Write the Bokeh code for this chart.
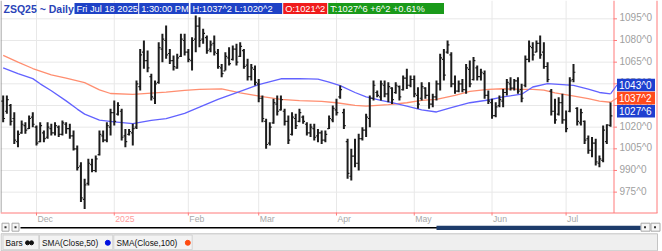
import pandas as pd
from bokeh.plotting import figure
from bokeh.models import Range1d, Label, BoxAnnotation
from bokeh.embed import file_html
from bokeh.resources import INLINE
from bokeh.core.properties import value

# ---------------- data ----------------
HOLIDAYS = ["2024-11-28", "2024-12-25", "2025-01-01", "2025-01-09", "2025-01-20",
            "2025-02-17", "2025-04-18", "2025-05-26", "2025-06-19", "2025-07-04"]
dates = [d for d in pd.bdate_range("2024-11-18", "2025-07-18")
         if d.strftime("%Y-%m-%d") not in HOLIDAYS]

highs = [1041.9, 1041.9, 1036.1, 1030.4, 1017.7, 1024.6, 1023.4, 1028.1, 1030.4, 1021.1,
         1023.4, 1017.7, 1023.4, 1022.3, 1023.4, 1021.1, 1024.6, 1023.4, 1022.3, 1017.7,
         1007.3, 995.7, 984.2, 998.1, 998.1, 1000.4, 1017.7, 1017.7, 1023.4, 1032.7,
         1038.4, 1037.3, 1032.7, 1018.8, 1018.8, 1022.3, 1052.3, 1074.2, 1080.0, 1073.1,
         1056.9, 1052.3, 1078.8, 1084.6, 1090.4, 1074.2, 1069.6, 1070.8, 1084.6, 1084.6,
         1074.2, 1082.3, 1097.3, 1096.1, 1088.1, 1083.5, 1080.0, 1083.5, 1074.2, 1063.8,
         1071.9, 1075.4, 1076.5, 1077.7, 1078.8, 1074.2, 1067.3, 1063.8, 1062.7, 1053.4,
         1041.9, 1025.8, 1023.4, 1039.6, 1041.9, 1041.9, 1032.7, 1028.1, 1030.4, 1029.2,
         1032.7, 1028.1, 1023.4, 1022.3, 1022.3, 1018.8, 1017.7, 1017.7, 1028.1, 1035.0,
         1039.6, 1048.8, 1032.7, 1011.9, 1005.0, 1011.9, 1015.4, 1020.0, 1029.2, 1041.9,
         1052.3, 1045.4, 1052.3, 1052.3, 1051.1, 1047.7, 1051.1, 1048.8, 1055.8, 1060.4,
         1055.8, 1055.8, 1047.7, 1051.1, 1047.7, 1051.1, 1043.1, 1052.3, 1070.8, 1074.2,
         1080.0, 1071.9, 1055.8, 1052.3, 1053.4, 1063.8, 1066.1, 1068.5, 1062.7, 1060.4,
         1059.2, 1045.4, 1039.6, 1037.3, 1041.9, 1046.5, 1053.4, 1054.6, 1053.4, 1054.6,
         1050.0, 1069.6, 1080.0, 1078.8, 1080.0, 1083.5, 1078.8, 1065.0, 1046.5, 1039.6,
         1040.7, 1043.1, 1031.5, 1054.6, 1063.8, 1033.8, 1032.7, 1024.6, 1014.2, 1013.1,
         1011.9, 1000.4, 1021.1, 1022.0, 1037.25]

lows = [1023.4, 1029.2, 1021.1, 1008.4, 1006.1, 1015.4, 1015.4, 1018.8, 1020.0, 1007.3,
        1009.6, 1009.6, 1011.9, 1014.2, 1014.2, 1013.1, 1014.2, 1015.4, 1011.9, 1003.8,
        990.0, 968.1, 963.4, 979.6, 988.8, 988.8, 1000.4, 1009.6, 1009.6, 1014.2,
        1021.1, 1028.1, 1010.8, 1006.1, 1014.2, 1007.3, 1018.8, 1045.4, 1060.4, 1058.1,
        1038.4, 1036.1, 1050.0, 1065.0, 1067.3, 1063.8, 1059.2, 1060.4, 1068.5, 1069.6,
        1065.0, 1059.2, 1071.9, 1075.4, 1077.7, 1070.8, 1071.9, 1069.6, 1060.4, 1054.6,
        1059.2, 1062.7, 1066.1, 1062.7, 1068.5, 1060.4, 1052.3, 1052.3, 1048.8, 1037.3,
        1023.4, 1005.0, 1007.3, 1022.3, 1028.1, 1031.5, 1021.1, 1008.4, 1014.2, 1018.8,
        1023.4, 1022.3, 1014.2, 1013.1, 1010.8, 1009.6, 1008.4, 1009.6, 1018.8, 1023.4,
        1028.1, 1039.6, 1018.8, 984.2, 983.0, 992.3, 990.0, 1010.8, 1013.1, 1020.0,
        1038.4, 1040.7, 1038.4, 1040.7, 1037.3, 1036.1, 1043.1, 1038.4, 1045.4, 1046.5,
        1047.7, 1040.7, 1032.7, 1038.4, 1039.6, 1032.7, 1033.8, 1038.4, 1045.4, 1052.3,
        1070.8, 1047.7, 1043.1, 1044.2, 1044.2, 1043.1, 1047.7, 1052.3, 1052.3, 1052.3,
        1039.6, 1036.1, 1025.8, 1026.9, 1033.8, 1033.8, 1041.9, 1045.4, 1045.4, 1043.1,
        1037.3, 1047.7, 1065.0, 1066.1, 1071.9, 1067.3, 1060.4, 1051.1, 1028.1, 1022.3,
        1028.1, 1022.3, 1016.5, 1030.4, 1051.1, 1021.1, 1021.1, 1008.4, 1001.5, 999.2,
        993.4, 992.3, 995.7, 1008.4, 1020.25]

opens = [1038, 1031, 1035, 1026, 1010, 1016, 1021, 1019, 1027, 1020,
         1010, 1016, 1013, 1019, 1016, 1020, 1015, 1022, 1019, 1014,
         1005, 993, 970, 981, 994, 990, 1001, 1014, 1011, 1020,
         1030, 1029, 1031, 1014, 1015, 1016, 1020, 1048, 1072, 1066,
         1055, 1040, 1051, 1074, 1080, 1071, 1066, 1061, 1069, 1080,
         1072, 1066, 1081, 1090, 1081, 1082, 1074, 1078, 1071, 1061,
         1059, 1068, 1067, 1074, 1069, 1073, 1063, 1055, 1060, 1050,
         1040, 1024, 1009, 1023, 1036, 1032, 1031, 1024, 1015, 1026,
         1024, 1027, 1022, 1016, 1019, 1014, 1016, 1011, 1019, 1025,
         1032, 1041, 1030, 1010, 986, 1000, 995, 1012, 1018, 1026,
         1040, 1044, 1041, 1049, 1043, 1047, 1044, 1048, 1046, 1054,
         1049, 1053, 1042, 1040, 1047, 1042, 1036, 1041, 1050, 1067,
         1072, 1070, 1050, 1045, 1050, 1046, 1060, 1053, 1061, 1055,
         1057, 1042, 1037, 1028, 1035, 1038, 1044, 1050, 1047, 1052,
         1046, 1049, 1067, 1075, 1072, 1078, 1072, 1062, 1045, 1031,
         1029, 1037, 1025, 1031, 1053, 1033, 1023, 1024, 1012, 1004,
         1009, 995, 997, 1010, 1021.25]

closes = [1026, 1039, 1024, 1011, 1015, 1022, 1018, 1026, 1022, 1009,
          1021, 1012, 1020, 1016, 1021, 1015, 1023, 1019, 1014, 1005,
          992, 971, 980, 995, 990, 998, 1015, 1011, 1021, 1030,
          1024, 1035, 1013, 1010, 1017, 1019, 1050, 1070, 1066, 1061,
          1041, 1050, 1075, 1081, 1070, 1066, 1062, 1068, 1081, 1072,
          1067, 1080, 1090, 1080, 1085, 1073, 1077, 1072, 1062, 1057,
          1069, 1064, 1074, 1065, 1076, 1062, 1055, 1061, 1051, 1040,
          1026, 1008, 1020, 1037, 1031, 1039, 1024, 1011, 1027, 1021,
          1030, 1024, 1016, 1020, 1013, 1016, 1011, 1015, 1026, 1033,
          1030, 1046, 1021, 988, 1000, 995, 1012, 1018, 1027, 1040,
          1049, 1042, 1050, 1043, 1048, 1039, 1049, 1041, 1054, 1049,
          1053, 1043, 1036, 1048, 1042, 1036, 1041, 1050, 1068, 1056,
          1077, 1050, 1045, 1050, 1046, 1061, 1050, 1066, 1055, 1058,
          1042, 1038, 1028, 1034, 1039, 1044, 1051, 1047, 1052, 1045,
          1040, 1067, 1076, 1070, 1078, 1070, 1062, 1053, 1031, 1025,
          1037, 1025, 1019, 1052, 1058, 1024, 1030, 1011, 1004, 1009,
          996, 998, 1018, 1021.5, 1027.75]

sma50_idx = [0, 4, 8, 10, 13, 17, 20, 22, 26, 30, 35, 40, 44, 49, 53, 58, 64, 69, 75, 80,
             85, 88, 91, 95, 98, 102, 105, 109, 113, 117, 121, 126, 131, 135, 140, 143,
             147, 150, 154, 158, 161, 164]
sma50_val = [1061.0, 1057.0, 1053.6, 1050.0, 1045.2, 1038.2, 1032.5, 1029.0, 1024.8, 1023.7,
             1022.4, 1024.7, 1025.9, 1029.5, 1033.8, 1039.3, 1044.8, 1049.4, 1053.5, 1053.6,
             1053.2, 1051.2, 1048.8, 1044.0, 1041.0, 1038.5, 1037.0, 1034.6, 1032.0, 1030.5,
             1033.5, 1036.9, 1038.8, 1040.9, 1042.8, 1047.8, 1050.1, 1049.6, 1048.9, 1046.4,
             1044.0, 1043.0]

sma100_idx = [0, 4, 8, 13, 17, 22, 26, 29, 35, 40, 44, 49, 53, 59, 64, 70, 75, 80, 86, 90,
              95, 98, 104, 109, 113, 117, 122, 126, 131, 135, 140, 143, 146, 149, 153, 158,
              161, 164]
sma100_val = [1069.7, 1065.0, 1060.6, 1056.2, 1054.0, 1050.8, 1045.8, 1043.3, 1042.7, 1043.6,
              1044.3, 1045.5, 1046.1, 1046.5, 1043.8, 1041.2, 1039.2, 1038.3, 1037.9, 1036.9,
              1035.1, 1034.6, 1035.6, 1036.9, 1038.6, 1039.3, 1042.0, 1044.8, 1046.1, 1046.6,
              1046.1, 1046.1, 1045.6, 1043.8, 1042.0, 1039.7, 1038.0, 1037.25]

y_ticks = [975, 990, 1005, 1020, 1035, 1050, 1065, 1080, 1095]
y_tick_labels = ["975^0", "990^0", "1005^0", "1020^0", "1035^0", "1050^0", "1065^0",
                 "1080^0", "1095^0"]
month_names = ["Dec", "2025", "Feb", "Mar", "Apr", "May", "Jun", "Jul"]
month_colors = ["#a8a8a8", "#ff9c9c", "#a8a8a8", "#a8a8a8", "#a8a8a8", "#a8a8a8", "#a8a8a8",
                "#a8a8a8"]

header_title = "ZSQ25 ~ Daily"
header_texts = ["Fri Jul 18 2025", "1:30:00 PM", "H:1037^2  L:1020^2", "O:1021^2",
                "T:1027^6  +6^2  +0.61%"]
price_tags = ["1043^0", "1037^2", "1027^6"]
legend_texts = ["Bars", "SMA(Close,50)", "SMA(Close,100)"]

# ---------------- geometry (pixel helpers for the chrome) ----------------
FONT = "Liberation Sans"
W, H = 662, 251
PLOT_W, PLOT_H = 613, 212          # price pane: x 0..613, y 0..212
X0, X1 = -0.72, 164.8              # bar index range across the price pane
Y0, Y1 = 960.9, 1107.7             # price range across the price pane


def px2x(px):
    return X0 + px * (X1 - X0) / PLOT_W


def px2y(py):
    return Y1 - py * (Y1 - Y0) / PLOT_H


def qx(v):
    return [px2x(a) for a in v]


def qy(v):
    return [px2y(a) for a in v]


n = len(highs)
xs = list(range(n))
month_idx = [i for i in range(1, len(dates)) if dates[i].month != dates[i - 1].month]

p = figure(width=W, height=H, x_range=Range1d(px2x(0), px2x(W)),
           y_range=Range1d(px2y(H), px2y(0)),
           output_backend="svg", toolbar_location=None, x_axis_type=None, y_axis_type=None,
           min_border_left=0, min_border_right=0, min_border_top=0, min_border_bottom=0)
p.outline_line_color = None
p.grid.visible = False
p.background_fill_color = "white"
p.border_fill_color = "white"

RED = "#ff7b7b"
GRID = "#e8e8e8"

# grid of the price pane
p.segment(x0=[px2x(0)] * len(y_ticks), x1=[px2x(PLOT_W)] * len(y_ticks), y0=y_ticks, y1=y_ticks,
          line_color=GRID, line_width=1)
p.segment(x0=month_idx, x1=month_idx, y0=[px2y(0)] * len(month_idx),
          y1=[px2y(PLOT_H)] * len(month_idx), line_color=GRID, line_width=1)

# pane borders
p.segment(x0=[px2x(0.5)], x1=[px2x(0.5)], y0=[px2y(0)], y1=[px2y(PLOT_H)],
          line_color="#8a8a8a", line_width=1)
p.segment(x0=[px2x(PLOT_W + 0.5), px2x(656.5), px2x(0)],
          x1=[px2x(PLOT_W + 0.5), px2x(656.5), px2x(657)],
          y0=[px2y(0), px2y(0), px2y(PLOT_H + 0.5)],
          y1=[px2y(PLOT_H + 0.5), px2y(PLOT_H + 0.5), px2y(PLOT_H + 0.5)],
          line_color=RED, line_width=1)

# price axis ticks and labels
p.segment(x0=[px2x(PLOT_W)] * len(y_ticks), x1=[px2x(PLOT_W + 3.5)] * len(y_ticks),
          y0=y_ticks, y1=y_ticks, line_color=RED, line_width=1)
p.text(x=[px2x(619)] * len(y_ticks), y=y_ticks, text=y_tick_labels, text_font=value(FONT),
       text_font_size="10px", text_color="#a0a0a0", text_baseline="middle", y_offset=-1)

# time axis ticks and labels
p.segment(x0=month_idx, x1=month_idx, y0=[px2y(PLOT_H)] * len(month_idx),
          y1=[px2y(PLOT_H + 3)] * len(month_idx), line_color=RED, line_width=1)
p.text(x=month_idx, y=[px2y(218.5)] * len(month_idx), text=month_names,
       text_font=value(FONT), text_font_size="8.7px", text_color=month_colors,
       text_baseline="middle", x_offset=1)

# moving averages
BLUE_MA = "#6262ff"
ORANGE_MA = "#ff8e70"
p.line(sma100_idx, sma100_val, line_color=ORANGE_MA, line_width=1.3)
p.line(sma50_idx, sma50_val, line_color=BLUE_MA, line_width=1.3)

# OHLC bars
BAR = "#1c1c1c"
p.segment(x0=xs, y0=lows, x1=xs, y1=highs, line_color=BAR, line_width=2)
p.segment(x0=[x - 0.5 for x in xs], y0=opens, x1=xs, y1=opens, line_color=BAR, line_width=1.2)
p.segment(x0=xs, y0=closes, x1=[x + 0.5 for x in xs], y1=closes, line_color=BAR, line_width=1.2)

# connectors from the moving-average ends to their tags
p.segment(x0=[xs[-1], xs[-1]], y0=[sma50_val[-1], sma100_val[-1]],
          x1=[px2x(616.5), px2x(616.5)], y1=[px2y(84.5), px2y(97.6)],
          line_color=[BLUE_MA, ORANGE_MA], line_width=1.2)

# header
p.add_layout(Label(x=px2x(3), y=px2y(8), text=header_title, text_font=FONT,
                   text_font_size="10.5px", text_font_style="bold", text_color="#2a44b8",
                   text_baseline="middle"))
hdr_l = [74, 138.7, 190, 282.7, 327.7]
hdr_r = [137.7, 188.3, 281.7, 326.7, 443.5]
hdr_c = ["#1e42c6", "#1e42c6", "#1e42c6", "#f01c1c", "#1a9a1a"]
for t, l, r, c in zip(header_texts, hdr_l, hdr_r, hdr_c):
    p.add_layout(BoxAnnotation(left=px2x(l), right=px2x(r), top=px2y(2.5), bottom=px2y(13.5),
                               fill_color=c, fill_alpha=1, line_color=None))
    p.add_layout(Label(x=px2x(l + 2), y=px2y(8.2), text=t, text_font=FONT,
                       text_font_size="9.3px", text_color="white", text_baseline="middle"))

# price tags on the axis
tag_c = ["#1e3fd0", "#ff4a1c", "#1e3fd0"]
tag_mid = [84.5, 97.6, 110.7]
for t, c, m in zip(price_tags, tag_c, tag_mid):
    p.add_layout(BoxAnnotation(left=px2x(616.5), right=px2x(654.5), top=px2y(m - 6.3),
                               bottom=px2y(m + 6.3), fill_color=c, fill_alpha=1, line_color=None))
    p.add_layout(Label(x=px2x(618.5), y=px2y(m + 0.3), text=t, text_font=FONT,
                       text_font_size="10px", text_color="white", text_baseline="middle"))

# ---------------- scrollbar ----------------
p.quad(left=qx([1.5, 11.5, 640.5, 650.5]), right=qx([8.5, 18.5, 649.5, 659.5]),
       top=qy([222.7] * 4), bottom=qy([230.7] * 4),
       fill_color="#f6f6f6", line_color="#a8a8a8", line_width=1)
p.quad(left=qx([4, 14, 643.5, 653.5]), right=qx([6, 16, 645.5, 655.5]),
       top=qy([225.8] * 4), bottom=qy([227.8] * 4), fill_color="#333333", line_color=None)
p.quad(left=qx([20]), right=qx([437]), top=qy([226.4]), bottom=qy([228.0]),
       fill_color="#000000", line_color=None)
p.quad(left=qx([436]), right=qx([640]), top=qy([225.2]), bottom=qy([229.4]),
       fill_color="#1d3c6b", line_color=None)

# ---------------- legend strip ----------------
p.quad(left=qx([0.5]), right=qx([657]), top=qy([233.3]), bottom=qy([250.3]),
       fill_color="#efefef", line_color="#c4c4c4", line_width=1)
p.quad(left=qx([2.5, 39, 113.3]), right=qx([38.3, 112.3, 191.7]), top=qy([234.5] * 3),
       bottom=qy([249.2] * 3), fill_color="#f3f3f3", line_color="#d2d2d2", line_width=1)
p.text(x=qx([5, 41.5, 116]), y=qy([242.3] * 3), text=legend_texts, text_font=value(FONT),
       text_font_size="8.3px", text_color="#111111", text_baseline="middle")
p.scatter(x=qx([27, 31]), y=qy([242.3, 242.3]), size=4, color="#111111")
p.scatter(x=qx([107.3]), y=qy([242.3]), size=5, color="#0010e0")
p.scatter(x=qx([187.3]), y=qy([242.3]), size=5, color="#ff4a10")

open("out.html", "w").write(file_html(p, INLINE))
